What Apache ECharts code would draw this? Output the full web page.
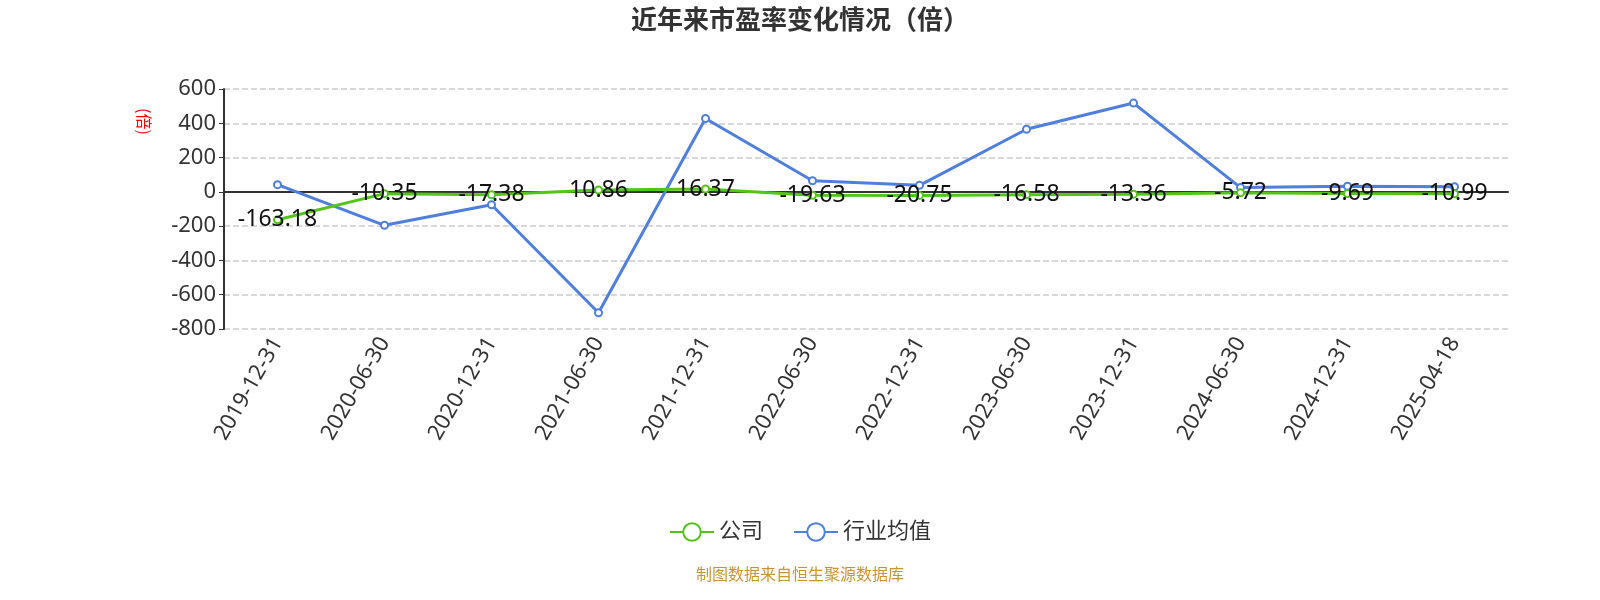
<!DOCTYPE html><html><head><meta charset="utf-8"><script src="https://cdn.jsdelivr.net/npm/echarts@6/dist/echarts.min.js"></script></head><body style="margin:0"><div id="c" style="width:1600px;height:600px"></div><script>
const categories=['2019-12-31','2020-06-30','2020-12-31','2021-06-30','2021-12-31','2022-06-30','2022-12-31','2023-06-30','2023-12-31','2024-06-30','2024-12-31','2025-04-18'];
const company=[-163.18,-10.35,-17.38,10.86,16.37,-19.63,-20.75,-16.58,-13.36,-5.72,-9.69,-10.99];
const industry=[42,-195,-75,-705,428,65,38,365,518,25,33,30];
const yTicks={min:-800,max:600,interval:200};
const F='"Noto Sans", "Noto Sans CJK SC", sans-serif';
const ch=echarts.init(document.getElementById('c'));
ch.setOption({
textStyle:{fontFamily:F},
title:{text:'近年来市盈率变化情况（倍）',left:'center',top:4,textStyle:{fontSize:26,fontWeight:'bold',color:'#333',fontFamily:F}},
grid:{left:224,right:92,top:89,bottom:271},
legend:{bottom:52,itemWidth:44,itemHeight:22,itemGap:30,textStyle:{fontSize:22,color:'#333',fontFamily:F},data:['公司','行业均值']},
graphic:[
{type:'text',left:'center',top:566,style:{text:'制图数据来自恒生聚源数据库',fill:'#c8962e',font:'16px "Noto Sans CJK SC"'}},
{type:'text',x:152,y:108,rotation:-Math.PI/2,originX:0,originY:0,style:{text:'(倍)',fill:'red',font:'16px "Noto Sans CJK SC"'}}
],
xAxis:{type:'category',data:categories,boundaryGap:true,axisLine:{lineStyle:{color:'#333',width:2}},axisTick:{lineStyle:{color:'#333'}},axisLabel:{rotate:60,fontSize:22,color:'#333',interval:0,margin:10}},
yAxis:{type:'value',min:yTicks.min,max:yTicks.max,interval:yTicks.interval,axisLine:{show:true,lineStyle:{color:'#333',width:2}},axisTick:{show:true},axisLabel:{fontSize:22,color:'#333'},splitLine:{lineStyle:{type:'dashed',color:'#ccc',width:1.5}}},
series:[
{name:'公司',type:'line',data:company,symbol:'emptyCircle',symbolSize:7,itemStyle:{color:'#52c41a'},lineStyle:{width:3},label:{show:true,position:'inside',fontSize:23,color:'#111'},z:3},
{name:'行业均值',type:'line',data:industry,symbol:'emptyCircle',symbolSize:7,itemStyle:{color:'#4e7fdd'},lineStyle:{width:3},z:2}
]});
</script></body></html>
